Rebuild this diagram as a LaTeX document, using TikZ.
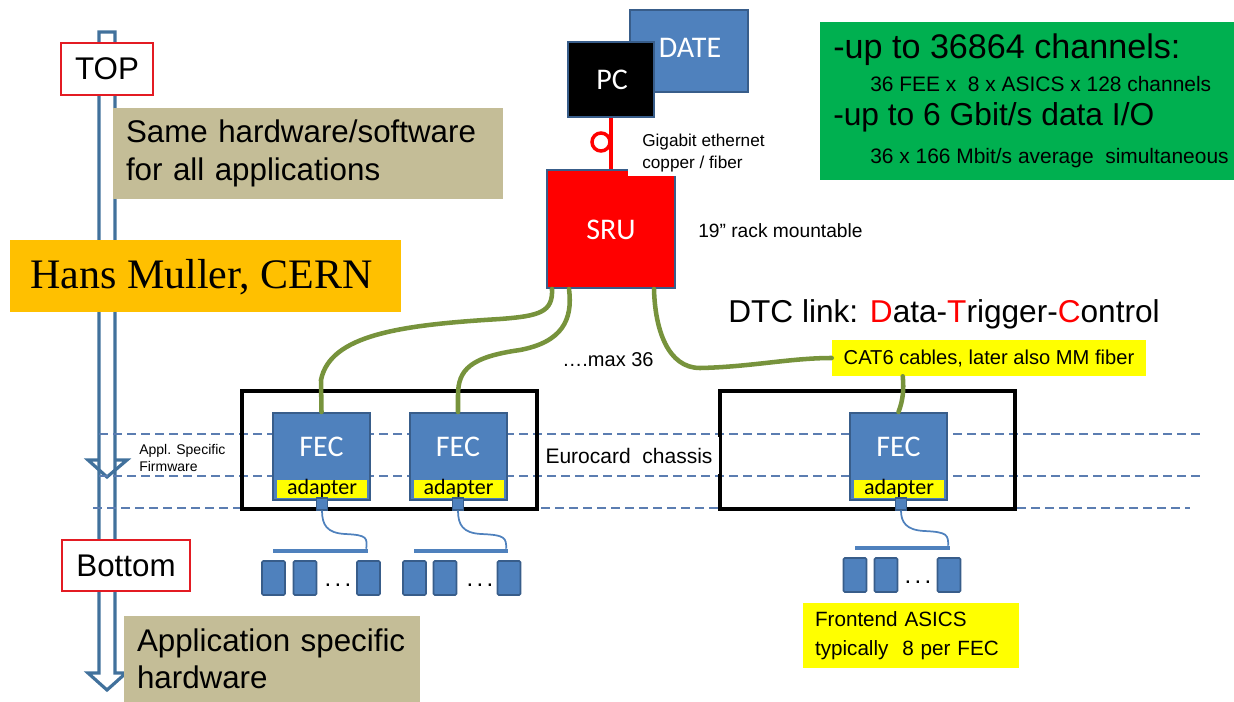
\documentclass[tikz,border=0pt]{standalone}
\usepackage{fontspec}
\setmainfont{Liberation Sans}
\newfontfamily\calfont{Carlito}
\newfontfamily\timesfont{Liberation Serif}
\usetikzlibrary{calc}
\definecolor{boxblue}{HTML}{4F81BD}
\definecolor{boxborder}{HTML}{385D8A}
\definecolor{tanfill}{HTML}{C4BD97}
\definecolor{orng}{HTML}{FFC000}
\definecolor{grn}{HTML}{00B050}
\definecolor{cableolive}{HTML}{77933C}
\definecolor{dashblue}{HTML}{5B7DB1}
\definecolor{arrowblue}{HTML}{41719C}
\definecolor{topred}{HTML}{E31B23}
\definecolor{yel}{HTML}{FFFF00}
\newcommand{\upx}[1]{#1*0.75pt}
\begin{document}
\begin{tikzpicture}[x=0.75pt,y=-0.75pt,
  arrowst/.style={draw=arrowblue, line width=2.4pt, fill=white, line join=miter},
  dashln/.style={draw=dashblue, line width=1.1pt, dash pattern=on 6.75pt off 3.75pt},
  tagbox/.style={draw=topred, fill=white, line width=1.5pt, inner sep=0pt, font=\fontsize{23.5}{28}\selectfont},
  tanbox/.style={fill=tanfill, inner xsep=\upx{13}, inner ysep=0pt, align=left, font=\fontsize{23.5}{28}\selectfont},
  bluebox/.style={fill=boxblue, draw=boxborder, line width=1.5pt, inner sep=0pt},
  whitetxt/.style={text=white, font=\calfont\fontsize{22.5}{26}\selectfont, inner sep=0pt},
  chassis/.style={draw=black, line width=2.3pt, inner sep=0pt},
  adapt/.style={fill=yel, inner sep=0pt, minimum width=\upx{90}, minimum height=\upx{16}, font=\calfont\fontsize{16.5}{18}\selectfont},
  conn/.style={fill=boxblue, draw=boxborder, line width=0.8pt, inner sep=0pt, minimum width=\upx{11}, minimum height=\upx{12}},
  busbar/.style={fill=boxblue, inner sep=0pt, minimum height=\upx{4}},
  asic/.style={fill=boxblue, draw=boxborder, line width=1.2pt, rounded corners=1pt, inner sep=0pt, minimum width=\upx{23}, minimum height=\upx{34}},
  bcable/.style={draw=boxblue, line width=1.3pt},
  gcable/.style={draw=cableolive, line width=3.4pt, line cap=round},
  dotstxt/.style={inner sep=0pt, font=\fontsize{18}{20}\selectfont},
  plain/.style={inner sep=0pt, align=left}
]
\useasboundingbox (0,0) rectangle (1234,702);

% ---- vertical hollow arrow
\draw[arrowst] (99,32) -- (99,673) -- (88,673) -- (107,690) -- (126,673) -- (115,673) -- (115,32) -- cycle;
\draw[arrowst, fill=none] (99,460) -- (88,460) -- (107,477) -- (127,460) -- (115,460);

% ---- dashed level lines
\draw[dashln] (99,434) -- (1200,434);
\draw[dashln] (99,476) -- (1200,476);
\draw[dashln] (93,508) -- (1190,508);

% ---- left labels
\node[tagbox, minimum width=\upx{92}, minimum height=\upx{52}] (top) at (107,69) {TOP};
\node[tanbox, minimum width=\upx{390}, minimum height=\upx{91}, text width=\upx{364}] (same) at (308,153.5) {Same hardware/software\\for all applications};
\node[fill=orng, inner sep=0pt, minimum width=\upx{391}, minimum height=\upx{72}] (hans) at (205.5,276) {};
\node[plain, anchor=west, font=\timesfont\fontsize{31.5}{34}\selectfont] (hanst) at (30,277) {Hans Muller, CERN};
\node[plain, anchor=west, font=\fontsize{10.5}{12.75}\selectfont] (firm) at (139,458) {Appl. Specific\\Firmware};
\node[tagbox, minimum width=\upx{128}, minimum height=\upx{51}] (bottom) at (126,565.5) {Bottom};
\node[tanbox, minimum width=\upx{296}, minimum height=\upx{86}, text width=\upx{270}] (appl) at (272,659) {Application specific\\hardware};

% ---- PC / DATE / SRU
\node[bluebox, minimum width=\upx{118}, minimum height=\upx{82}] (date) at (689,51) {};
\node[whitetxt, anchor=center] (datet) at (690,48) {DATE};
\node[fill=black, draw=boxborder, line width=1.5pt, inner sep=0pt, minimum width=\upx{86}, minimum height=\upx{75}] (pc) at (611,79.5) {};
\node[whitetxt] (pct) at (612,80) {PC};
\node[fill=red, draw=boxborder, line width=1.5pt, inner sep=0pt, minimum width=\upx{128}, minimum height=\upx{118}] (sru) at (611,229) {};
\node[whitetxt] (srut) at (611,230) {SRU};
\draw[red, line width=2.8pt] (pc.south) -- (sru.north);
\node[circle, draw=red, line width=2.6pt, minimum size=\upx{18}, inner sep=0pt] (loop) at (601,142) {};
\node[fill=white, inner xsep=\upx{14}, inner ysep=\upx{4}, align=left, font=\fontsize{12.9}{16.5}\selectfont, anchor=north west] (giga) at (628,130) {Gigabit ethernet\\copper / fiber};
\node[plain, anchor=west, font=\fontsize{14.4}{17}\selectfont] (rack) at (698,231) {19” rack mountable};

% ---- green info box
\node[fill=grn, inner sep=0pt, minimum width=\upx{414}, minimum height=\upx{158}] (info) at (1027,101) {};
\node[plain, anchor=west, font=\fontsize{25.6}{28}\selectfont] (info1) at (833,50) {-up to 36864 channels:};
\node[plain, anchor=west, font=\fontsize{15.7}{18}\selectfont] (info2) at (870,84) {36 FEE x~ 8 x ASICS x 128 channels};
\node[plain, anchor=west, font=\fontsize{23.8}{28}\selectfont] (info3) at (833,117) {-up to 6 Gbit/s data I/O};
\node[plain, anchor=west, font=\fontsize{15.7}{18}\selectfont] (info4) at (870,158) {36 x 166 Mbit/s average~ simultaneous};

% ---- DTC link
\node[plain, font=\fontsize{23.7}{28}\selectfont] (dtc) at (944,314) {DTC link: \textcolor{red}{D}ata-\textcolor{red}{T}rigger-\textcolor{red}{C}ontrol};
\node[fill=yel, inner sep=0pt, minimum width=\upx{314}, minimum height=\upx{36}, font=\fontsize{15.1}{18}\selectfont] (cat6) at (989,358) {CAT6 cables, later also MM fiber};
\node[plain, font=\fontsize{15}{18}\selectfont] (max36) at (608,360) {….max 36};

% ---- chassis
\node[chassis, minimum width=\upx{295}, minimum height=\upx{118}] (ch1) at (389.5,450) {};
\node[chassis, minimum width=\upx{295}, minimum height=\upx{118}] (ch2) at (867.5,450) {};
\node[fill=white, inner sep=0pt, minimum width=\upx{180}, minimum height=\upx{37}, font=\fontsize{15.75}{18}\selectfont] (euro) at (629,455.5) {Eurocard~ chassis};

% ---- FECs
\foreach \n/\x in {1/321.5, 2/458, 3/898.5}{
  \node[bluebox, minimum width=\upx{97}, minimum height=\upx{87}] (fec\n) at (\x,456.5) {};
  \node[whitetxt] (fect\n) at (\x,447) {FEC};
  \node[adapt] (ad\n) at (\x+0.5,489) {adapter};
}
\node[conn] (cn1) at (322,504) {};
\node[conn] (cn2) at (458,504) {};
\node[conn] (cn3) at (901,504) {};

% ---- ASIC groups
\node[busbar, minimum width=\upx{95}] (bar1) at (320.5,551) {};
\node[busbar, minimum width=\upx{94}] (bar2) at (461,551) {};
\node[busbar, minimum width=\upx{95}] (bar3) at (902.5,548) {};
\foreach \g/\a/\b/\c/\y in {1/273.5/305/368.5/578, 2/414.5/445/509/578, 3/855/886/949/575}{
  \node[asic] (as\g a) at (\a,\y) {};
  \node[asic] (as\g b) at (\b,\y) {};
  \node[asic] (as\g c) at (\c,\y) {};
}
\node[dotstxt] (dots1) at (338,585) {.\hspace{2.5pt}.\hspace{2.5pt}.};
\node[dotstxt] (dots2) at (480,585) {.\hspace{2.5pt}.\hspace{2.5pt}.};
\node[dotstxt] (dots3) at (918,582) {.\hspace{2.5pt}.\hspace{2.5pt}.};

\node[fill=yel, inner xsep=\upx{12}, inner ysep=0pt, minimum width=\upx{216}, minimum height=\upx{65}, text width=\upx{192}, align=left, font=\fontsize{15.5}{21.5}\selectfont] (asics) at (911,635.5) {Frontend ASICS\\typically~ 8 per FEC};

\draw[bcable] (cn1.south) .. controls (322,525) and (327,533) .. (345,534) .. controls (368,535) and (367,538) .. ($(bar1.north east)+(-2,0)$);
\draw[bcable] (cn2.south) .. controls (458,525) and (463,533) .. (481,534) .. controls (506,535) and (506,538) .. ($(bar2.north east)+(-2,0)$);
\draw[bcable] (cn3.south) .. controls (901,522) and (906,530) .. (924,531) .. controls (948,532) and (948,535) .. ($(bar3.north east)+(-2,0)$);

% ---- green cables
\draw[gcable] ($(sru.south west)+(6,0)$) .. controls (553,312) and (540,316) .. (500,319) .. controls (400,325) and (330,335) .. (321,380) -- (fec1.north);
\draw[gcable] ($(sru.south west)+(23,0)$) .. controls (573,320) and (562,342) .. (520,350) .. controls (470,357) and (458,370) .. (458,395) -- (fec2.north);
\draw[gcable] ($(sru.south west)+(108,0)$) .. controls (655,330) and (668,368) .. (700,368) .. controls (750,367) and (790,358) .. (cat6.west);
\draw[gcable] ($(cat6.south west)+(71,0)$) .. controls (904,390) and (903,400) .. (fec3.north);

\end{tikzpicture}
\end{document}
